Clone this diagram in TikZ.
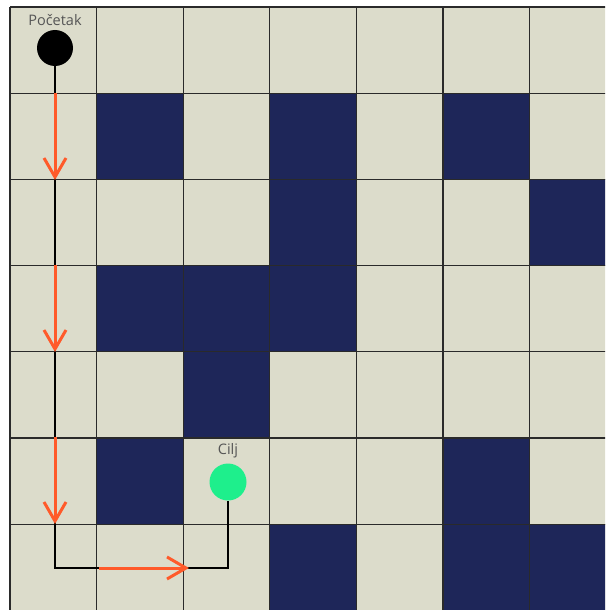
\documentclass[tikz,border=0pt]{standalone}
\usepackage{fontspec}
\setsansfont{Open Sans}
\usetikzlibrary{arrows.meta,positioning,calc}
\definecolor{mzfloor}{HTML}{DCDCCB}
\definecolor{mzwall}{HTML}{1E2659}
\definecolor{mzgrid}{HTML}{2A2A2A}
\definecolor{mzpath}{HTML}{FF5A2A}
\definecolor{mzgoal}{HTML}{1EEF8C}
\definecolor{mzlabel}{HTML}{555555}

\begin{document}
\begin{tikzpicture}[x=1pt, y=-1pt,
  disc/.style={circle, inner sep=0pt, minimum size=36pt},
  tag/.style={font=\sffamily\fontsize{14.5}{16}\selectfont, text=mzlabel, inner sep=1pt},
  route/.style={draw=black, line width=2.3pt},
  stepdir/.style={-{Straight Barb[length=19pt, width=22pt, line width=3pt]},
    draw=mzpath, line width=3pt}]
\useasboundingbox (0,0) rectangle (605,610);
\clip (0,0) rectangle (605,610);
\def\cw{86.6}
\def\ch{86.2}
% floor and walls
\fill[mzfloor] (10,7) rectangle ({10+7*\cw},{7+7*\ch});
\foreach \r/\c in {1/1,1/3,1/5,2/3,2/6,3/1,3/2,3/3,4/2,5/1,5/5,6/3,6/5,6/6}
  \fill[mzwall] ({10+\c*\cw},{7+\r*\ch}) rectangle ({10+(\c+1)*\cw},{7+(\r+1)*\ch});
% grid lines
\foreach \i in {0,...,7} {
  \draw[mzgrid, line width=1.2pt] ({10+\i*\cw},7) -- ({10+\i*\cw},{7+7*\ch});
  \draw[mzgrid, line width=1.2pt] (10,{7+\i*\ch}) -- ({10+7*\cw},{7+\i*\ch});
}
% start and goal
\node[disc, fill=black] (start) at (55,48) {};
\node[tag, above=3pt of start] (startlbl) {Početak};
\node[disc, fill=mzgoal, minimum size=37pt] (goal) at (228,482) {};
\node[tag, above=4pt of goal] (goallbl) {Cilj};
% route
\coordinate (bendA) at (55,568);
\coordinate (bendB) at (228,568);
\draw[route] (start) -- (bendA) -- (bendB) -- (goal);
% direction arrows
\coordinate (a1s) at (55,93);  \coordinate (a1e) at (55,180);
\coordinate (a2s) at (55,265); \coordinate (a2e) at (55,352);
\coordinate (a3s) at (55,437); \coordinate (a3e) at (55,524);
\coordinate (a4s) at (99,568); \coordinate (a4e) at (189,568);
\foreach \k in {1,...,4}
  \draw[stepdir] (a\k s) -- (a\k e);
\end{tikzpicture}
\end{document}
